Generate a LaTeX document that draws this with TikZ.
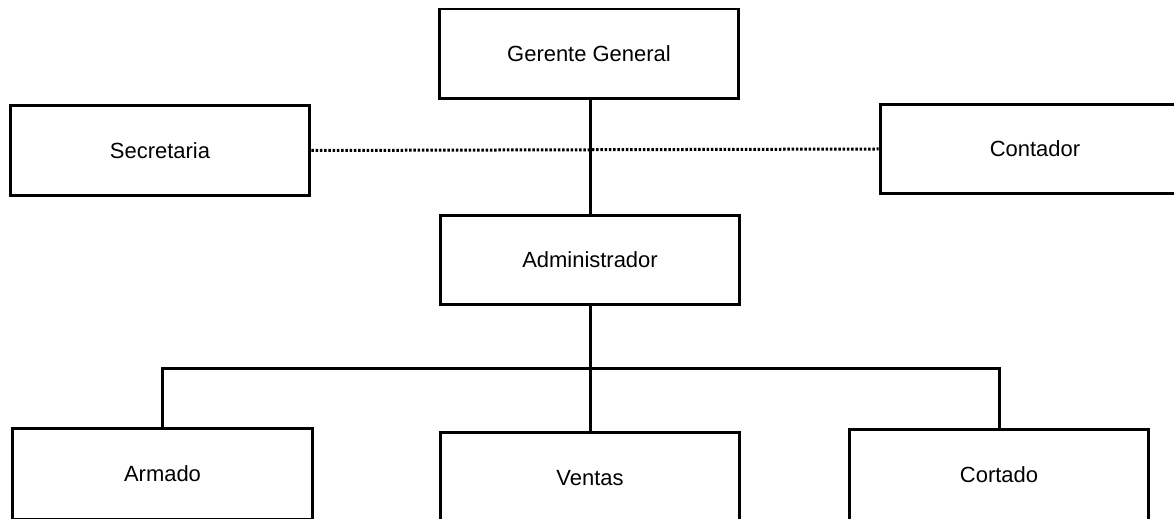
\documentclass[tikz,border=0pt]{standalone}
\usepackage{fontspec}
\setmainfont{Liberation Sans}
\usetikzlibrary{positioning}

\begin{document}
\begin{tikzpicture}[x=0.02cm, y=-0.02cm, line width=0.06cm]
  \tikzstyle{cargo}=[draw, rectangle, minimum width=6cm, minimum height=1.8cm,
    inner sep=0pt, font=\fontsize{12.5}{15}\selectfont]
  \tikzstyle{enlace}=[draw=black]
  \tikzstyle{punteado}=[draw=black, line width=0.06cm, dash pattern=on 0.05cm off 0.035cm]

  \useasboundingbox (0,0) rectangle (1174,519);

  % Draw the upper boxes
  \node[cargo] (gerente) at (589,54) {Gerente General};
  \node[cargo, minimum height=1.82cm] (secretaria) at (160,150.5) {Secretaria};
  \node[cargo, minimum width=6.2cm] (contador) at (1035,149) {Contador};
  \node[cargo] (admin) at (590,260) {Administrador};

  % Draw the lower boxes
  \node[cargo, minimum height=1.84cm] (armado) at (162.5,474) {Armado};
  \node[cargo, minimum height=1.84cm] (ventas) at (590,478) {Ventas};
  \node[cargo, minimum height=1.84cm] (cortado) at (999,475) {Cortado};

  \coordinate (bus) at (590,369);

  % Connect boxes
  \path[enlace] (admin.north) edge (admin.north |- gerente.south);
  \path[punteado] (secretaria.east) -- (contador.west);
  \path[enlace] (admin) -- (ventas);
  \path[enlace] (armado.north) |- (bus) -| (cortado.north);
\end{tikzpicture}
\end{document}
